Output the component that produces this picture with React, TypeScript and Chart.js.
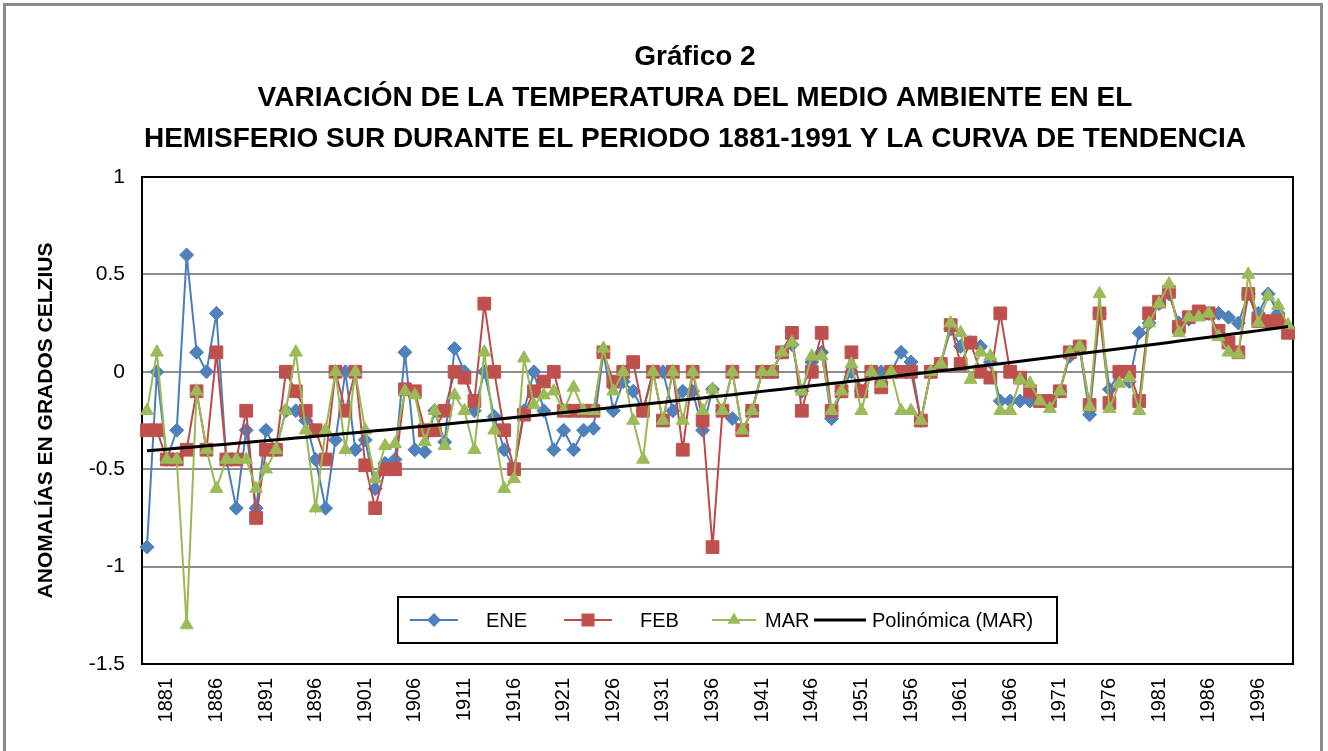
import { useEffect, useRef } from 'react';
import { Chart, registerables } from 'chart.js';

Chart.register(...registerables);
Chart.defaults.font.family = "'Liberation Sans', Arial, sans-serif";

const years: number[] = [
  1879, 1880, 1881, 1882, 1883, 1884, 1885, 1886, 1887, 1888, 1889, 1890, 1891, 1892, 1893, 1894, 1895, 1896, 1897, 1898,
  1899, 1900, 1901, 1902, 1903, 1904, 1905, 1906, 1907, 1908, 1909, 1910, 1911, 1912, 1913, 1914, 1915, 1916, 1917, 1918,
  1919, 1920, 1921, 1922, 1923, 1924, 1925, 1926, 1927, 1928, 1929, 1930, 1931, 1932, 1933, 1934, 1935, 1936, 1937, 1938,
  1939, 1940, 1941, 1942, 1943, 1944, 1945, 1946, 1947, 1948, 1949, 1950, 1951, 1952, 1953, 1954, 1955, 1956, 1957, 1958,
  1959, 1960, 1961, 1962, 1963, 1964, 1965, 1966, 1967, 1968, 1969, 1970, 1971, 1972, 1973, 1974, 1975, 1976, 1977, 1978,
  1979, 1980, 1981, 1982, 1983, 1984, 1985, 1986, 1992, 1993, 1994, 1995, 1996, 1997, 1998, 1999,
];

const ene: number[] = [
  -0.9, 0, -0.45, -0.3, 0.6, 0.1, 0, 0.3, -0.45, -0.7, -0.3, -0.7, -0.3, -0.4, -0.2, -0.2, -0.25, -0.45, -0.7, -0.35,
  0, -0.4, -0.35, -0.6, -0.47, -0.45, 0.1, -0.4, -0.41, -0.2, -0.36, 0.12, 0, -0.2, 0, -0.23, -0.4, -0.5, -0.2, 0,
  -0.2, -0.4, -0.3, -0.4, -0.3, -0.29, 0.1, -0.2, -0.05, -0.1, -0.2, 0, 0, -0.2, -0.1, -0.1, -0.3, -0.09, -0.2, -0.24,
  -0.3, -0.2, 0, 0, 0.1, 0.14, -0.1, 0.05, 0.1, -0.24, -0.1, 0, -0.1, 0, 0, 0, 0.1, 0.05, -0.25, 0,
  0.04, 0.22, 0.13, 0.15, 0.13, 0.05, -0.15, -0.15, -0.15, -0.15, -0.15, -0.15, -0.1, 0.08, 0.12, -0.22, 0.3, -0.09, 0, -0.05,
  0.2, 0.25, 0.35, 0.4, 0.25, 0.27, 0.3, 0.3, 0.3, 0.28, 0.25, 0.4, 0.3, 0.4, 0.3, 0.22,
];

const feb: number[] = [
  -0.3, -0.3, -0.45, -0.45, -0.4, -0.1, -0.4, 0.1, -0.45, -0.45, -0.2, -0.75, -0.4, -0.4, 0, -0.1, -0.2, -0.3, -0.45, 0,
  -0.2, 0, -0.48, -0.7, -0.5, -0.5, -0.09, -0.1, -0.3, -0.3, -0.2, 0, -0.03, -0.15, 0.35, 0, -0.3, -0.5, -0.22, -0.1,
  -0.05, 0, -0.2, -0.2, -0.2, -0.2, 0.1, -0.05, 0, 0.05, -0.2, 0, -0.25, 0, -0.4, 0, -0.25, -0.9, -0.2, 0,
  -0.3, -0.2, 0, 0, 0.1, 0.2, -0.2, 0, 0.2, -0.2, -0.1, 0.1, -0.1, 0, -0.08, 0, 0, 0, -0.25, 0,
  0.04, 0.24, 0.04, 0.15, 0, -0.03, 0.3, 0, -0.03, -0.1, -0.15, -0.15, -0.1, 0.1, 0.13, -0.17, 0.3, -0.16, 0, 0,
  -0.15, 0.3, 0.36, 0.41, 0.23, 0.28, 0.31, 0.3, 0.21, 0.15, 0.1, 0.4, 0.26, 0.26, 0.26, 0.2,
];

const mar: number[] = [
  -0.2, 0.1, -0.45, -0.45, -1.3, -0.1, -0.4, -0.6, -0.45, -0.45, -0.45, -0.6, -0.5, -0.4, -0.2, 0.1, -0.3, -0.7, -0.3, 0,
  -0.4, 0, -0.3, -0.55, -0.38, -0.37, -0.1, -0.12, -0.36, -0.2, -0.38, -0.12, -0.2, -0.4, 0.1, -0.3, -0.6, -0.55, 0.07, -0.17,
  -0.12, -0.1, -0.2, -0.08, -0.2, -0.2, 0.12, -0.1, 0, -0.25, -0.45, 0, -0.25, 0, -0.25, 0, -0.2, -0.09, -0.2, 0,
  -0.3, -0.2, 0, 0, 0.1, 0.15, -0.1, 0.08, 0.08, -0.2, -0.1, 0.04, -0.2, 0, -0.06, 0, -0.2, -0.2, -0.25, 0,
  0.04, 0.25, 0.2, -0.04, 0.1, 0.08, -0.2, -0.2, -0.04, -0.06, -0.15, -0.19, -0.1, 0.1, 0.13, -0.18, 0.4, -0.19, -0.06, -0.03,
  -0.2, 0.25, 0.35, 0.45, 0.2, 0.28, 0.28, 0.3, 0.18, 0.1, 0.09, 0.5, 0.25, 0.39, 0.34, 0.24,
];

const yTickLabels: Record<string, string> = { '1': '1', '0.5': '0.5', '0': '0', '-0.5': '-0.5', '-1': '-1', '-1.5': '-1.5' };

const titleLines: string[] = [
  'Gráfico 2',
  'VARIACIÓN DE LA TEMPERATURA DEL MEDIO AMBIENTE EN EL',
  'HEMISFERIO SUR DURANTE EL PERIODO 1881-1991 Y LA CURVA DE TENDENCIA',
];
const yAxisTitle = 'ANOMALÍAS EN GRADOS CELZIUS';
const trendLabel = 'Polinómica (MAR)';

const BLUE_LINE = '#4A7EBB';
const BLUE_MARK = '#4F81BD';
const RED_LINE = '#BE4B48';
const RED_MARK = '#C0504D';
const GREEN_LINE = '#98B954';
const GREEN_MARK = '#9BBB59';

// Excel-style 2nd order polynomial least squares trendline fitted on MAR (x = 1..n)
function polyFit2(values: number[]): number[] {
  const n = values.length;
  let s0 = 0, s1 = 0, s2 = 0, s3 = 0, s4 = 0, t0 = 0, t1 = 0, t2 = 0;
  values.forEach((v, i) => {
    const x = i + 1;
    s0 += 1; s1 += x; s2 += x * x; s3 += x * x * x; s4 += x * x * x * x;
    t0 += v; t1 += v * x; t2 += v * x * x;
  });
  const m = [
    [s0, s1, s2, t0],
    [s1, s2, s3, t1],
    [s2, s3, s4, t2],
  ];
  for (let c = 0; c < 3; c++) {
    for (let r = c + 1; r < 3; r++) {
      const f = m[r][c] / m[c][c];
      for (let k = c; k < 4; k++) m[r][k] -= f * m[c][k];
    }
  }
  const coef = [0, 0, 0];
  for (let r = 2; r >= 0; r--) {
    let s = m[r][3];
    for (let k = r + 1; k < 3; k++) s -= m[r][k] * coef[k];
    coef[r] = s / m[r][r];
  }
  const out: number[] = [];
  for (let i = 0; i < n; i++) {
    const x = i + 1;
    out.push(coef[0] + coef[1] * x + coef[2] * x * x);
  }
  return out;
}

const framePlugin = {
  id: 'frame',
  beforeDatasetsDraw(chart: any) {
    const { ctx, chartArea } = chart;
    ctx.save();
    ctx.strokeStyle = '#000';
    ctx.lineWidth = 2;
    ctx.strokeRect(chartArea.left, chartArea.top, chartArea.right - chartArea.left, chartArea.bottom - chartArea.top);
    ctx.restore();
  },
  afterDraw(chart: any) {
    const { ctx } = chart;
    ctx.save();
    ctx.strokeStyle = '#8a8a8a';
    ctx.lineWidth = 3;
    ctx.beginPath();
    ctx.moveTo(4.5, 760);
    ctx.lineTo(4.5, 4.5);
    ctx.lineTo(1321.5, 4.5);
    ctx.lineTo(1321.5, 760);
    ctx.stroke();
    ctx.restore();
  },
};

const titlePlugin = {
  id: 'customTitle',
  afterDraw(chart: any) {
    const { ctx } = chart;
    ctx.save();
    ctx.fillStyle = '#000';
    ctx.font = "bold 28px 'Liberation Sans', Arial, sans-serif";
    ctx.textAlign = 'center';
    ctx.textBaseline = 'middle';
    const ys = [57, 98, 139];
    titleLines.forEach((t, i) => ctx.fillText(t, 695, ys[i]));
    ctx.restore();
  },
};

function drawMarker(ctx: CanvasRenderingContext2D, style: string, x: number, y: number, color: string) {
  ctx.fillStyle = color;
  ctx.beginPath();
  if (style === 'rectRot') {
    const r = 7;
    ctx.moveTo(x, y - r);
    ctx.lineTo(x + r, y);
    ctx.lineTo(x, y + r);
    ctx.lineTo(x - r, y);
  } else if (style === 'rect') {
    const h = 6.5;
    ctx.rect(x - h, y - h, 2 * h, 2 * h);
  } else if (style === 'triangle') {
    const r = 7.5;
    ctx.moveTo(x, y - r);
    ctx.lineTo(x + r * 0.866, y + r * 0.5);
    ctx.lineTo(x - r * 0.866, y + r * 0.5);
  }
  ctx.closePath();
  ctx.fill();
}

const legendPlugin = {
  id: 'customLegend',
  afterDraw(chart: any) {
    const { ctx } = chart;
    const box = { x: 398, y: 597, w: 659, h: 46 };
    const cy = box.y + box.h / 2;
    ctx.save();
    ctx.fillStyle = '#fff';
    ctx.fillRect(box.x, box.y, box.w, box.h);
    ctx.strokeStyle = '#000';
    ctx.lineWidth = 2;
    ctx.strokeRect(box.x, box.y, box.w, box.h);
    const items = [
      { label: 'ENE', line: BLUE_LINE, mark: BLUE_MARK, style: 'rectRot', x1: 410, x2: 458, tx: 486, lw: 2 },
      { label: 'FEB', line: RED_LINE, mark: RED_MARK, style: 'rect', x1: 564, x2: 612, tx: 640, lw: 2 },
      { label: 'MAR', line: GREEN_LINE, mark: GREEN_MARK, style: 'triangle', x1: 712, x2: 756, tx: 765, lw: 2 },
      { label: trendLabel, line: '#000', mark: '', style: '', x1: 814, x2: 866, tx: 872, lw: 3 },
    ];
    ctx.font = "20px 'Liberation Sans', Arial, sans-serif";
    ctx.textBaseline = 'middle';
    ctx.textAlign = 'left';
    items.forEach((it) => {
      ctx.strokeStyle = it.line;
      ctx.lineWidth = it.lw;
      ctx.beginPath();
      ctx.moveTo(it.x1, cy);
      ctx.lineTo(it.x2, cy);
      ctx.stroke();
      if (it.style) drawMarker(ctx, it.style, (it.x1 + it.x2) / 2, cy, it.mark);
      ctx.fillStyle = '#000';
      ctx.fillText(it.label, it.tx, cy + 1);
    });
    ctx.restore();
  },
};

export default function App() {
  const ref = useRef<HTMLCanvasElement>(null);
  useEffect(() => {
    if (!ref.current) return;
    const trend = polyFit2(mar);
    const chart = new Chart(ref.current, {
      type: 'line',
      data: {
        labels: years.map(String),
        datasets: [
          {
            label: trendLabel, data: trend, borderColor: '#000', borderWidth: 3,
            pointRadius: 0, order: 0, tension: 0,
          },
          {
            label: 'MAR', data: mar, borderColor: GREEN_LINE, backgroundColor: GREEN_MARK,
            pointBackgroundColor: GREEN_MARK, pointBorderColor: GREEN_MARK, pointStyle: 'triangle',
            pointRadius: 7.5, pointBorderWidth: 1, borderWidth: 2, order: 1,
          },
          {
            label: 'FEB', data: feb, borderColor: RED_LINE, backgroundColor: RED_MARK,
            pointBackgroundColor: RED_MARK, pointBorderColor: RED_MARK, pointStyle: 'rect',
            pointRadius: 9, pointBorderWidth: 1, borderWidth: 2, order: 2,
          },
          {
            label: 'ENE', data: ene, borderColor: BLUE_LINE, backgroundColor: BLUE_MARK,
            pointBackgroundColor: BLUE_MARK, pointBorderColor: BLUE_MARK, pointStyle: 'rectRot',
            pointRadius: 7, pointBorderWidth: 1, borderWidth: 2, order: 3,
          },
        ],
      },
      options: {
        responsive: false,
        animation: false,
        layout: { padding: { left: 0, right: 35, top: 177, bottom: 0 } },
        plugins: {
          legend: { display: false },
          title: { display: false },
          tooltip: { enabled: false },
        },
        scales: {
          x: {
            type: 'category',
            offset: true,
            grid: { display: false, drawTicks: false },
            border: { display: false },
            ticks: {
              autoSkip: false, maxRotation: 90, minRotation: 90, padding: 14,
              color: '#000', font: { size: 20 },
              callback: (_v: any, i: number) => (i % 5 === 2 ? String(years[i]) : ''),
            },
            afterFit: (s: any) => { s.height = 87; },
          },
          y: {
            min: -1.5, max: 1,
            ticks: {
              stepSize: 0.5, padding: 17, color: '#000', font: { size: 21 },
              callback: (v: any) => {
                const k = String(Math.round(Number(v) * 10) / 10);
                return yTickLabels[k] ?? k;
              },
            },
            grid: { color: '#8c8c8c', lineWidth: 2, drawTicks: false },
            border: { display: false },
            title: {
              display: true, text: yAxisTitle, color: '#000',
              font: { size: 21, weight: 'bold' }, padding: { top: 34, bottom: 0 },
            },
            afterFit: (s: any) => { s.width = 142; },
          },
        },
      },
      plugins: [framePlugin, titlePlugin, legendPlugin],
    });
    return () => chart.destroy();
  }, []);
  return (
    <div style={{ position: 'absolute', left: 0, top: 0, width: 1328, height: 751, background: '#fff', overflow: 'hidden' }}>
      <canvas ref={ref} width={1328} height={751} style={{ display: 'block' }} />
    </div>
  );
}
